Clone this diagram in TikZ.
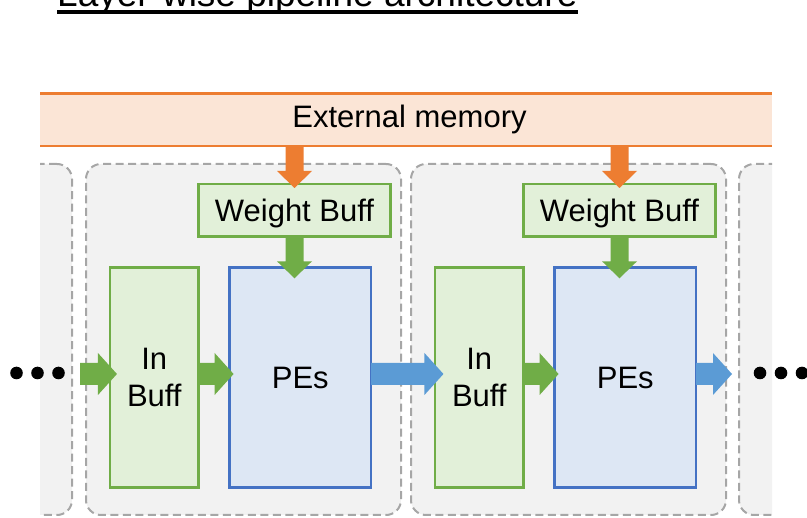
\documentclass[tikz,border=0pt]{standalone}
\usepackage{fontspec}
\setmainfont{Liberation Sans}
\usetikzlibrary{calc}

\definecolor{memfill}{HTML}{FBE5D6}
\definecolor{memline}{HTML}{ED7D31}
\definecolor{bufffill}{HTML}{E2F0D9}
\definecolor{buffline}{HTML}{70AD47}
\definecolor{pefill}{HTML}{DDE7F4}
\definecolor{peline}{HTML}{4472C4}
\definecolor{flowblue}{HTML}{5B9BD5}
\definecolor{stagefill}{HTML}{F2F2F2}
\definecolor{stageline}{HTML}{A6A6A6}

% block arrow pointing right: #1 colour, #2 tail, #3 tip (same height)
\newcommand\harrowfill[3]{%
  \fill[#1] ($(#2)+(0,11)$) -- ($(#3)+(-19,11)$) -- ($(#3)+(-19,21)$) -- (#3)
    -- ($(#3)+(-19,-21)$) -- ($(#3)+(-19,-11)$) -- ($(#2)+(0,-11)$) -- cycle;}
% block arrow pointing down: #1 colour, #2 tail, #3 tip (same column)
\newcommand\varrowfill[3]{%
  \fill[#1] ($(#2)+(-9,0)$) -- ($(#3)+(-9,17)$) -- ($(#3)+(-17.5,17)$) -- (#3)
    -- ($(#3)+(17.5,17)$) -- ($(#3)+(9,17)$) -- ($(#2)+(9,0)$) -- cycle;}

\begin{document}
\begin{tikzpicture}[x=1pt,y=1pt,
  lbl/.style={font=\fontsize{31}{37}\selectfont, text height=22.2pt, text depth=0pt, align=center},
  twoline/.style={text height=59.2pt, text depth=0pt},
  stage/.style={draw=stageline, fill=stagefill, line width=2pt, dash pattern=on 8pt off 4.5pt,
    rounded corners=15pt, minimum width=315pt, minimum height=351pt, inner sep=0pt, outer sep=0pt},
  buffbox/.style={lbl, draw=buffline, fill=bufffill, line width=2.5pt, inner sep=0pt, outer sep=0pt},
  pebox/.style={lbl, draw=peline, fill=pefill, line width=2.5pt, inner sep=0pt, outer sep=0pt},
  dot/.style={circle, fill=black, inner sep=0pt, minimum size=12.6pt},
]
\clip (0,0) rectangle (807,-518);

% heading
\node[anchor=base west, inner sep=0pt, font=\fontsize{37}{44}\selectfont] (title) at (57,-7)
  {Layer-wise pipeline architecture};
\draw[line width=4pt] ($(title.base west)+(0,-5)$) -- ($(title.base east)+(0,-5)$);

% pipeline stages
\begin{scope}
  \clip (40,-150) rectangle (772,-518);
  \node[stage] (s0) at (-85.5,-339.5) {};
  \node[stage] (s1) at (243.5,-339.5) {};
  \node[stage] (s2) at (568.5,-339.5) {};
  \node[stage] (s3) at (896.5,-339.5) {};
\end{scope}

% external memory band
\node[fill=memfill, minimum width=732pt, minimum height=52.5pt, inner sep=0pt, outer sep=0pt] (ext) at (406,-119.75) {};
\node[font=\fontsize{31}{37}\selectfont, inner sep=0pt, text height=22.2pt, text depth=5.7pt]
  (extlbl) at (409.5,-119.75) {External memory};
\draw[memline, line width=2.8pt] (ext.north west) -- (ext.north east);
\draw[memline, line width=2.5pt] (ext.south west) -- (ext.south east);

% stage 1
\node[buffbox, minimum width=192pt, minimum height=52.4pt] (wb1) at (294.5,-210.2) {Weight Buff};
\node[buffbox, twoline, minimum width=88.7pt, minimum height=220pt] (ib1) at (154.3,-377.3) {In\\Buff};
\node[pebox, minimum width=141.4pt, minimum height=220pt] (pe1) at (300.3,-377.3) {PEs};

% stage 2
\node[buffbox, minimum width=192pt, minimum height=52.4pt] (wb2) at (619.5,-210.2) {Weight Buff};
\node[buffbox, twoline, minimum width=88.7pt, minimum height=220pt] (ib2) at (479.3,-377.3) {In\\Buff};
\node[pebox, minimum width=141.4pt, minimum height=220pt] (pe2) at (625.3,-377.3) {PEs};

% continuation dots
\node[dot] (dl1) at (16.5,-373) {};
\node[dot] (dl2) at (37.5,-373) {};
\node[dot] (dl3) at (58.5,-373) {};
\node[dot] (dr1) at (760,-373) {};
\node[dot] (dr2) at (781,-373) {};
\node[dot] (dr3) at (802,-373) {};

% data flow
\coordinate (inL) at (80,-374);
\coordinate (outR) at (732,-374);
\harrowfill{buffline}{inL}{$(ib1.west |- inL)+(7,0)$}
\harrowfill{buffline}{ib1.east |- inL}{$(pe1.west |- inL)+(4,0)$}
\harrowfill{flowblue}{pe1.east |- inL}{$(ib2.west |- inL)+(8.5,0)$}
\harrowfill{buffline}{ib2.east |- inL}{$(pe2.west |- inL)+(4,0)$}
\harrowfill{flowblue}{pe2.east |- inL}{outR}

% weight flow
\varrowfill{memline}{ext.south -| wb1}{$(wb1.north)+(0,-4)$}
\varrowfill{buffline}{wb1.south}{$(pe1.north -| wb1)+(0,-11)$}
\varrowfill{memline}{ext.south -| wb2}{$(wb2.north)+(0,-4)$}
\varrowfill{buffline}{wb2.south}{$(pe2.north -| wb2)+(0,-11)$}
\end{tikzpicture}
\end{document}
